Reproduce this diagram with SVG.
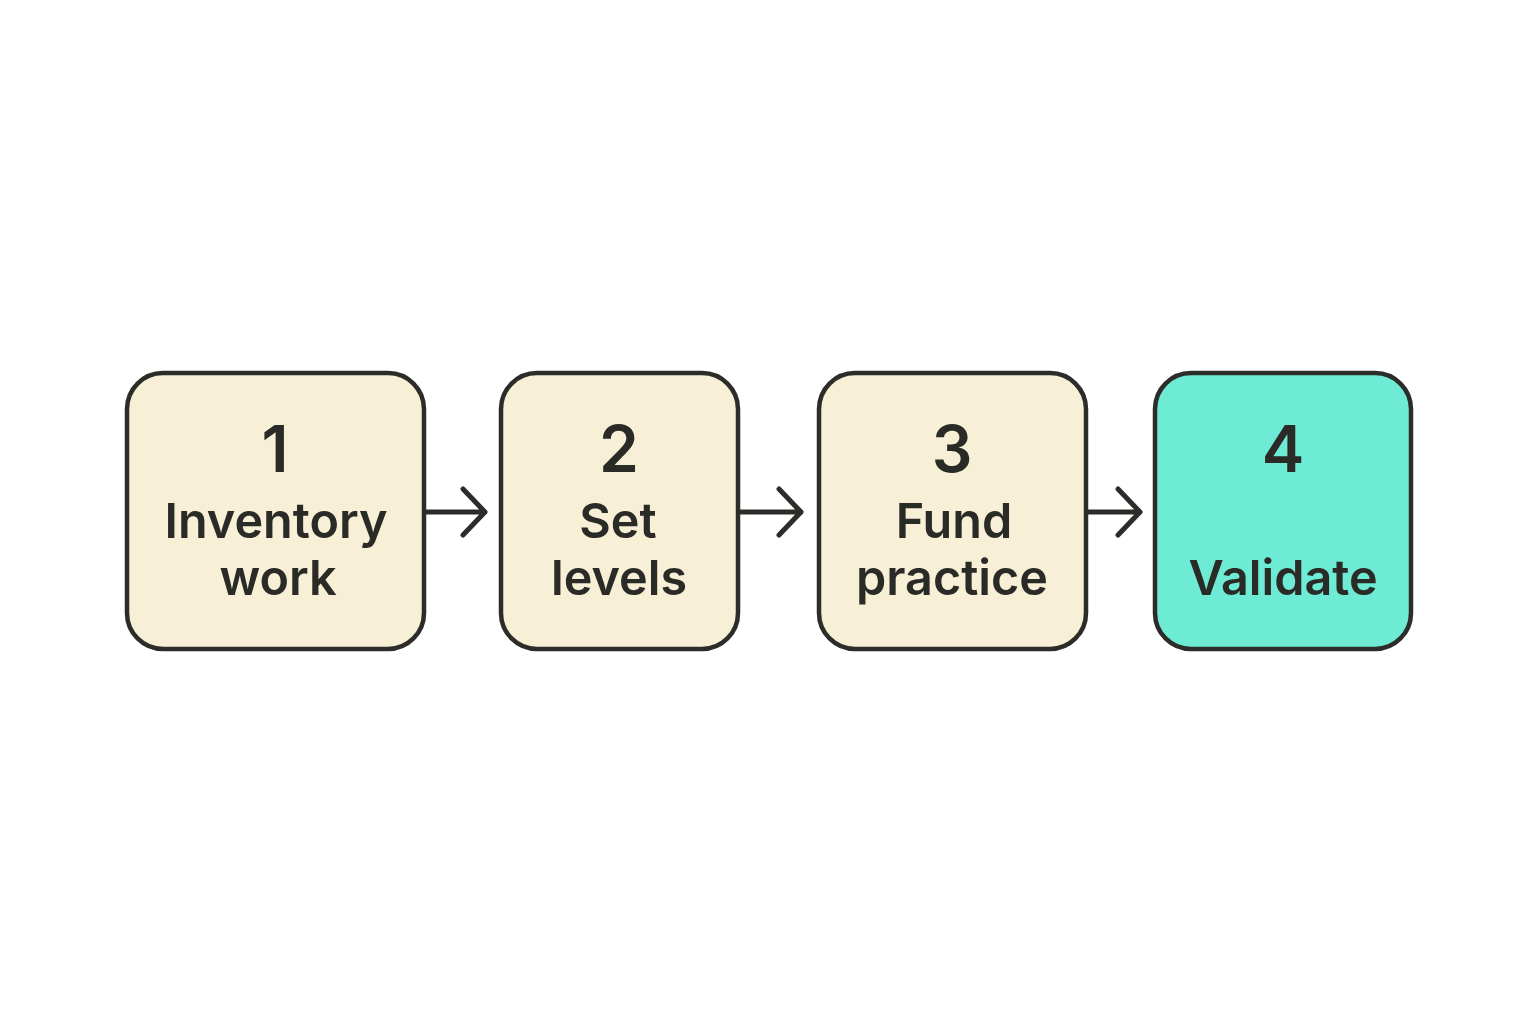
<svg xmlns="http://www.w3.org/2000/svg" width="1536" height="1024" viewBox="0 0 1536 1024">
<style>
.box{fill:#f8efd7;stroke:#2c2c29;stroke-width:4.5}
.box.hl{fill:#6eebd4}
.num{font-family:Inter,"Noto Sans",sans-serif;font-weight:600;font-size:64px;fill:#2a2a27;text-anchor:middle}
.lbl{font-family:Inter,"Noto Sans",sans-serif;font-weight:600;font-size:48.5px;fill:#2a2a27;text-anchor:middle}
.conn{fill:none;stroke:#2c2c29;stroke-width:5;stroke-linecap:round;stroke-linejoin:round}
</style>
<rect width="1536" height="1024" fill="#ffffff"/>
<g id="node1">
<rect class="box" x="127" y="373" width="297" height="276" rx="36"/>
<text class="num" x="275" y="472">1</text>
<text class="lbl" x="276" y="538">Inventory</text>
<text class="lbl" x="278" y="595">work</text>
</g>
<g id="node2">
<rect class="box" x="501" y="373" width="237" height="276" rx="36"/>
<text class="num" x="619" y="472">2</text>
<text class="lbl" x="618" y="538">Set</text>
<text class="lbl" x="619" y="595">levels</text>
</g>
<g id="node3">
<rect class="box" x="819" y="373" width="267" height="276" rx="36"/>
<text class="num" x="952" y="472">3</text>
<text class="lbl" x="954" y="538">Fund</text>
<text class="lbl" x="952" y="595">practice</text>
</g>
<g id="node4">
<rect class="box hl" x="1155" y="373" width="256" height="276" rx="36"/>
<text class="num" x="1283" y="472">4</text>
<text class="lbl" x="1283" y="595">Validate</text>
</g>
<g id="connectors">
<path class="conn" d="M426 512 H485 M463 489 L485 512 L463 535"/>
<path class="conn" d="M740 512 H801 M779 489 L801 512 L779 535"/>
<path class="conn" d="M1088 512 H1140 M1118 489 L1140 512 L1118 535"/>
</g>
</svg>
